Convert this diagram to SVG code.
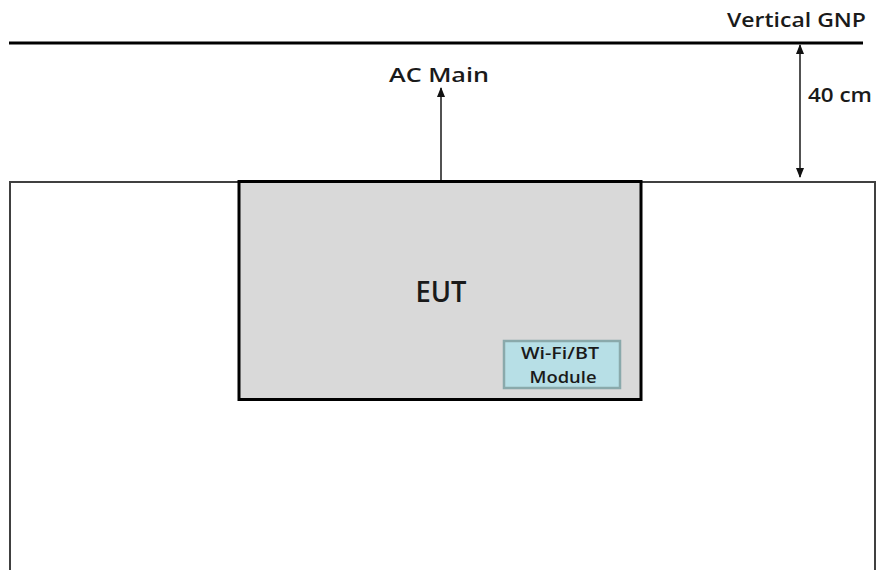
<svg xmlns="http://www.w3.org/2000/svg" width="883" height="570" viewBox="0 0 883 570">
  <style>
    text { font-family: "Open Sans", "Noto Sans", "Liberation Sans", sans-serif; font-weight: 600; fill: #1a1a1a; }
    .conn { stroke: #262626; stroke-width: 1.6; fill: none; }
  </style>
  <defs>
    <marker id="ah" viewBox="0 0 10 10" refX="9" refY="5" markerWidth="10" markerHeight="10" markerUnits="userSpaceOnUse" orient="auto-start-reverse">
      <path d="M0,1 L10,5 L0,9 Z" fill="#111"/>
    </marker>
  </defs>
  <rect width="883" height="570" fill="#ffffff"/>

  <g id="gnp">
    <line x1="9" y1="43" x2="863" y2="43" stroke="#000" stroke-width="3"/>
    <text x="866" y="27" font-size="20" text-anchor="end" textLength="139" lengthAdjust="spacingAndGlyphs">Vertical GNP</text>
  </g>

  <g id="table">
    <path d="M10,575 L10,182 L875,182 L875,575" fill="none" stroke="#404040" stroke-width="2"/>
  </g>

  <g id="eut">
    <rect x="239" y="181.5" width="402" height="218" fill="#d9d9d9" stroke="#000" stroke-width="3"/>
    <text x="441" y="302" font-size="28" text-anchor="middle" textLength="51" lengthAdjust="spacingAndGlyphs">EUT</text>
  </g>

  <g id="module">
    <rect x="504" y="341" width="116" height="47" fill="#b7dfe6" stroke="#8aa9ab" stroke-width="2.5"/>
    <text x="560" y="359" font-size="17" text-anchor="middle" textLength="78" lengthAdjust="spacingAndGlyphs">Wi-Fi/BT</text>
    <text x="563" y="383" font-size="17" text-anchor="middle" textLength="67" lengthAdjust="spacingAndGlyphs">Module</text>
  </g>

  <g id="ac-main">
    <text x="439" y="82" font-size="20" text-anchor="middle" textLength="100" lengthAdjust="spacingAndGlyphs">AC Main</text>
  </g>

  <g id="distance-label">
    <text x="808" y="102" font-size="20" textLength="64" lengthAdjust="spacingAndGlyphs">40 cm</text>
  </g>

  <g id="connectors">
    <line class="conn" x1="441" y1="180" x2="441" y2="88" marker-end="url(#ah)"/>
    <line class="conn" x1="800" y1="45" x2="800" y2="177" marker-start="url(#ah)" marker-end="url(#ah)"/>
  </g>
</svg>
